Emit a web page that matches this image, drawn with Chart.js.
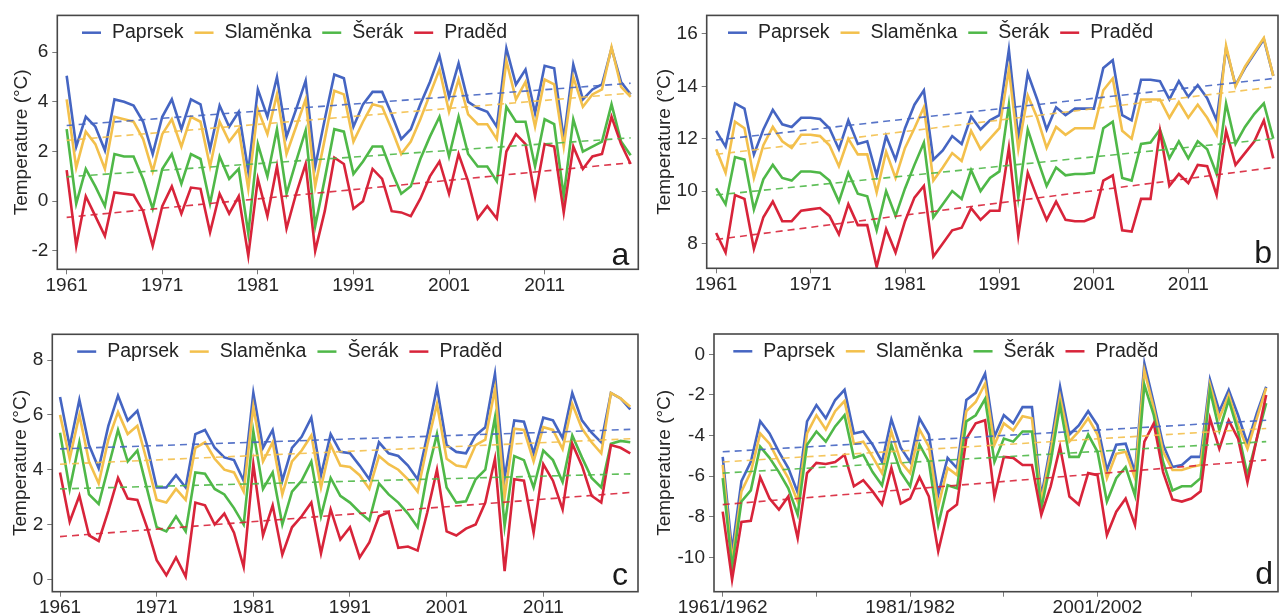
<!DOCTYPE html>
<html><head><meta charset="utf-8">
<script src="https://cdn.jsdelivr.net/npm/chart.js@4.4.0/dist/chart.umd.min.js"></script>
<style>
html,body{margin:0;padding:0;background:#fff;width:1279px;height:616px;overflow:hidden}
canvas{position:absolute}
</style></head><body>
<canvas id="ca" width="640" height="305" style="left:0;top:0"></canvas>
<canvas id="cb" width="639" height="305" style="left:640px;top:0"></canvas>
<canvas id="cc" width="640" height="311" style="left:0;top:305px"></canvas>
<canvas id="cd" width="639" height="311" style="left:640px;top:305px"></canvas>
<script>
// ---------- data ----------
const seriesNames = ['Paprsek', 'Slaměnka', 'Šerák', 'Praděd'];
const years = [1961,1962,1963,1964,1965,1966,1967,1968,1969,1970,1971,1972,1973,1974,1975,1976,1977,1978,1979,1980,
  1981,1982,1983,1984,1985,1986,1987,1988,1989,1990,1991,1992,1993,1994,1995,1996,1997,1998,1999,2000,
  2001,2002,2003,2004,2005,2006,2007,2008,2009,2010,2011,2012,2013,2014,2015,2016,2017,2018,2019,2020];
const winters = [1961,1962,1963,1964,1965,1966,1967,1968,1969,1970,1971,1972,1973,1974,1975,1976,1977,1978,1979,1980,
  1981,1982,1983,1984,1985,1986,1987,1988,1989,1990,1991,1992,1993,1994,1995,1996,1997,1998,1999,2000,
  2001,2002,2003,2004,2005,2006,2007,2008,2009,2010,2011,2012,2013,2014,2015,2016,2017,2018,2019];
const xTickYears = [1961, 1971, 1981, 1991, 2001, 2011];
const winterLabelYears = [1961, 1981, 2001];

// panel a
const aPaprsek = [5.05,2.2,3.4,3.0,2.05,4.1,4.0,3.85,3.2,1.9,3.4,4.1,2.9,4.1,3.9,2.1,3.85,3.0,3.6,1.2,
  4.5,3.4,5.0,2.6,3.7,4.85,1.4,3.3,5.1,4.95,3.0,3.9,4.4,4.4,3.5,2.5,2.9,3.9,4.8,5.85,
  4.2,5.55,4.0,3.75,3.6,3.0,6.15,4.7,5.3,3.55,5.45,5.35,2.5,5.5,4.1,4.5,4.7,6.15,4.8,4.3];
const aSlamenka = [4.1,1.35,2.8,2.3,1.3,3.4,3.3,3.2,2.5,1.2,2.7,3.3,2.2,3.4,3.2,1.4,3.2,2.4,2.9,0.5,
  3.7,2.7,4.3,1.9,3.0,4.1,0.6,2.5,4.45,4.3,2.4,3.2,3.9,3.8,2.9,1.9,2.4,3.3,4.3,5.3,
  3.6,4.9,3.5,3.1,3.1,2.5,5.65,4.1,4.8,3.0,4.9,4.7,2.2,5.0,3.8,4.3,4.5,6.2,4.6,4.2];
const aSerak = [2.9,-0.1,1.3,0.6,-0.2,1.9,1.8,1.8,0.9,-0.3,1.3,1.9,0.7,1.9,1.7,-0.1,1.8,0.9,1.3,-1.3,
  2.3,1.0,2.9,0.3,1.6,2.85,-1.0,0.9,2.9,2.8,1.1,1.6,2.2,2.2,1.2,0.3,0.6,1.7,2.6,3.4,
  1.8,3.4,1.9,1.4,1.4,0.8,3.8,3.2,3.2,1.4,3.3,3.1,0.2,3.3,2.0,2.2,2.4,3.9,2.4,1.85];
const aPraded = [1.25,-1.8,0.2,-0.6,-1.4,0.35,0.3,0.25,-0.4,-1.8,-0.2,0.6,-0.5,0.55,0.5,-1.25,0.3,-0.5,0.2,-2.2,
  0.9,-0.6,1.4,-1.1,0.3,1.5,-2.0,-0.4,1.75,1.5,-0.3,0.0,1.3,0.9,-0.4,-0.45,-0.6,0.1,1.0,1.6,
  0.3,1.9,0.8,-0.7,-0.2,-0.7,2.0,2.7,2.3,0.2,2.3,2.2,-0.45,2.2,1.3,1.8,1.9,3.4,2.3,1.5];
const aTrendStart = [3.05, 2.45, 0.98, -0.65];
const aTrendEnd = [4.75, 4.35, 2.55, 1.55];
const aYTicks = [-2, 0, 2, 4, 6];

// panel b
const bPaprsek = [12.3,11.7,13.35,13.15,11.4,12.35,13.1,12.55,12.45,12.8,12.8,12.75,12.4,11.6,12.7,11.8,11.9,10.6,12.1,11.2,
  12.4,13.3,13.85,11.2,11.55,12.1,11.8,12.85,12.35,12.7,12.9,15.4,12.0,14.5,13.5,12.35,13.2,12.9,13.15,13.15,
  13.15,14.7,15.0,12.9,12.7,14.25,14.25,14.2,13.5,14.2,13.6,14.05,13.55,12.7,15.45,14.05,14.7,15.25,15.8,14.4];
const bSlamenka = [11.6,10.7,12.65,12.4,10.5,11.75,12.45,11.9,11.65,12.15,12.15,12.1,11.75,10.95,12.0,11.4,11.4,9.95,11.5,10.5,
  11.65,12.4,13.2,10.4,10.9,11.45,11.15,12.3,11.6,12.0,12.4,14.65,11.6,13.65,12.8,11.65,12.45,12.15,12.4,12.4,
  12.4,13.85,14.3,12.3,12.0,13.5,13.5,13.5,12.8,13.4,12.8,13.3,12.8,12.15,15.55,14.0,14.75,15.3,15.85,14.4];
const bSerak = [10.1,9.5,11.3,11.2,9.3,10.45,11.0,10.5,10.4,10.75,10.75,10.7,10.4,9.6,10.7,9.9,9.8,8.5,10.0,9.05,
  10.1,11.0,11.85,9.0,9.5,10.0,9.7,10.8,10.0,10.5,10.75,13.3,9.75,12.35,11.25,10.2,10.9,10.6,10.65,10.65,
  10.7,12.4,12.65,10.5,10.4,11.8,11.85,12.35,11.25,11.9,11.25,11.9,11.6,10.65,13.35,11.8,12.45,12.95,13.35,12.0];
const bPraded = [8.4,7.65,9.85,9.7,7.8,9.0,9.6,8.85,8.85,9.25,9.3,9.35,9.05,8.35,9.5,8.7,8.7,7.1,8.55,7.65,
  8.85,9.75,10.2,7.5,8.0,8.5,8.6,9.35,8.9,9.25,9.25,11.65,8.3,10.7,9.75,8.9,9.6,8.9,8.85,8.85,
  9.0,10.4,10.6,8.5,8.45,9.7,9.7,12.3,10.2,10.65,10.3,11.0,10.95,9.85,12.3,11.0,11.45,11.9,12.7,11.25];
const bTrendStart = [11.95, 11.4, 9.85, 8.15];
const bTrendEnd = [14.3, 13.98, 12.0, 10.9];
const bYTicks = [8, 10, 12, 14, 16];

// panel c
const cPaprsek = [6.65,4.85,6.55,4.9,4.05,5.6,6.7,5.8,6.15,4.9,3.35,3.35,3.8,3.35,5.3,5.45,4.8,4.45,4.35,3.6,
  6.8,4.8,5.45,3.6,4.8,5.2,5.9,3.8,5.3,4.65,4.6,4.15,3.65,5.0,4.6,4.5,4.15,3.65,5.25,7.0,
  4.9,4.65,4.6,5.25,5.55,7.5,3.7,5.8,5.75,4.6,5.9,5.8,5.15,6.8,5.8,5.35,5.0,6.8,6.6,6.2];
const cSlamenka = [6.0,4.4,6.0,4.3,3.5,5.1,6.1,5.3,5.6,4.3,2.9,2.8,3.3,2.9,4.8,5.0,4.4,4.0,3.9,3.2,
  6.3,4.3,5.0,3.1,4.3,4.7,5.25,3.35,4.9,4.15,4.1,3.8,3.3,4.5,4.2,4.0,3.65,3.2,4.9,6.4,
  4.4,4.15,4.1,4.9,5.1,6.95,3.0,5.5,5.45,4.3,5.55,5.45,4.75,6.4,5.5,5.0,4.6,6.8,6.6,6.3];
const cSerak = [5.35,3.3,5.0,3.1,2.75,4.1,5.45,4.3,4.7,3.3,1.9,1.75,2.3,1.75,3.9,3.85,3.3,3.1,2.6,2.0,
  5.4,3.3,3.9,2.0,3.2,3.6,4.3,2.3,3.7,3.05,2.8,2.45,2.15,3.5,3.1,2.8,2.4,1.9,3.85,5.3,
  3.35,2.8,2.85,3.65,4.0,5.9,1.95,4.5,4.35,3.35,4.7,4.35,3.55,5.25,4.45,3.7,3.35,4.95,5.05,5.0];
const cPraded = [3.9,2.1,3.05,1.6,1.4,2.5,3.7,2.95,2.9,1.9,0.7,0.15,0.8,0.1,2.8,2.7,2.0,2.4,1.7,0.45,
  4.2,1.6,2.7,0.9,1.9,2.3,2.8,0.95,2.55,1.45,1.9,0.8,1.35,2.3,2.45,1.15,1.2,1.05,2.45,4.0,
  1.75,1.6,1.85,2.0,2.8,4.4,0.3,3.65,3.6,1.7,4.2,3.6,2.55,4.95,4.15,3.05,2.8,4.9,4.8,4.6];
const cTrendStart = [4.76, 4.2, 3.3, 1.56];
const cTrendEnd = [5.47, 5.13, 3.85, 3.17];
const cYTicks = [0, 2, 4, 6, 8];

// panel d (winters 1961/1962 ... 2019/2020)
const dPaprsek = [-5.05,-9.7,-6.25,-5.3,-3.3,-3.9,-4.8,-5.6,-6.8,-3.3,-2.5,-3.15,-2.25,-1.75,-3.9,-3.8,-4.45,-5.3,-3.2,-4.6,
  -5.3,-3.15,-3.95,-6.9,-5.1,-5.6,-2.25,-1.9,-0.95,-4.05,-3.0,-3.4,-2.6,-2.6,-7.0,-4.5,-1.6,-3.95,-3.5,-2.8,
  -3.5,-5.7,-4.45,-4.4,-5.8,-0.45,-2.4,-4.45,-5.55,-5.45,-5.05,-5.05,-1.25,-2.8,-1.75,-3.0,-4.4,-2.9,-1.6];
const dSlamenka = [-5.45,-10.2,-6.75,-5.8,-3.9,-4.4,-5.3,-6.1,-7.25,-3.9,-3.0,-3.7,-2.8,-2.3,-4.4,-4.3,-5.05,-5.85,-3.8,-5.3,
  -5.85,-3.7,-4.55,-7.5,-5.6,-5.95,-2.8,-2.35,-1.45,-4.45,-3.4,-3.75,-3.05,-3.15,-7.25,-4.8,-2.1,-4.3,-3.8,-3.15,
  -3.95,-6.1,-4.9,-4.8,-6.1,-0.8,-2.65,-4.8,-5.7,-5.7,-5.55,-5.45,-1.5,-3.15,-2.0,-3.5,-4.65,-3.15,-1.65];
const dSerak = [-6.1,-10.5,-7.25,-6.7,-4.55,-5.1,-5.8,-6.6,-7.9,-4.45,-3.8,-4.3,-3.55,-3.0,-5.1,-4.95,-5.8,-6.45,-4.45,-5.8,
  -6.5,-4.45,-5.3,-8.4,-6.45,-6.6,-3.3,-3.0,-2.2,-5.3,-4.15,-4.3,-3.8,-3.8,-7.6,-5.3,-2.5,-5.05,-5.05,-3.95,
  -4.8,-7.25,-6.1,-5.55,-6.95,-1.5,-3.0,-5.3,-6.7,-6.5,-6.5,-6.1,-1.75,-3.75,-2.25,-3.8,-5.95,-4.15,-2.4];
const dPraded = [-7.75,-11.1,-8.25,-8.2,-6.05,-7.1,-7.65,-7.0,-9.05,-5.85,-5.35,-5.4,-5.3,-4.95,-6.5,-6.2,-6.75,-7.4,-5.6,-7.35,
  -7.1,-6.05,-7.0,-9.7,-7.75,-7.4,-4.15,-3.4,-3.25,-7.0,-5.05,-5.1,-5.45,-5.45,-7.9,-6.5,-4.55,-7.0,-7.4,-5.85,
  -5.95,-8.9,-7.75,-7.1,-8.4,-4.3,-3.4,-5.8,-7.15,-7.25,-7.1,-6.75,-3.15,-4.65,-3.25,-4.15,-6.3,-4.15,-2.0];
const dTrendStart = [-4.8, -5.3, -5.85, -7.4];
const dTrendEnd = [-3.25, -3.65, -4.3, -5.2];
const dYTicks = [-10, -8, -6, -4, -2, 0];

// ---------- styling ----------
const lineColors = ['#4565c2', '#f3c04c', '#4fb848', '#d8243a'];
const trendColors = ['rgba(69,101,194,0.9)', 'rgba(243,192,76,0.9)', 'rgba(79,184,72,0.9)', 'rgba(216,36,58,0.9)'];
const FONT = '"Liberation Sans", Arial, sans-serif';

const panelPlugin = {
  id: 'panelDecor',
  afterDatasetsDraw(chart) {
    const o = chart.options.plugins.panelDecor;
    const {ctx, chartArea: a} = chart;
    ctx.save();
    ctx.strokeStyle = '#474747';
    ctx.lineWidth = 1.6;
    ctx.strokeRect(a.left, a.top, a.right - a.left, a.bottom - a.top);
    // legend
    ctx.font = '19.5px ' + FONT;
    ctx.textBaseline = 'middle';
    ctx.textAlign = 'left';
    let x = a.left + o.legendX;
    const y = a.top + 17.3;
    chart.data.datasets.filter(d => !d.isTrend).forEach(d => {
      ctx.strokeStyle = d.borderColor;
      ctx.lineWidth = 2.5;
      ctx.beginPath(); ctx.moveTo(x, y); ctx.lineTo(x + 19, y); ctx.stroke();
      x += 30;
      ctx.fillStyle = '#242424';
      ctx.fillText(d.label, x, y);
      x += ctx.measureText(d.label).width + 11;
    });
    // panel letter
    ctx.font = '32px ' + FONT;
    ctx.textAlign = 'right';
    ctx.textBaseline = 'alphabetic';
    ctx.fillStyle = '#1a1a1a';
    ctx.fillText(o.letter, a.right - o.letterDx, a.bottom - o.letterDy);
    ctx.restore();
  }
};

function makePanel(p) {
  const datasets = [];
  p.series.forEach((vals, i) => {
    datasets.push({
      label: seriesNames[i],
      data: vals.map((v, k) => ({x: p.xs[k], y: v})),
      borderColor: lineColors[i], backgroundColor: lineColors[i],
      borderWidth: 2.6, pointRadius: 0, tension: 0, fill: false,
      order: 5 - i
    });
  });
  p.trendStart.forEach((v, i) => {
    datasets.push({
      label: seriesNames[i] + ' trend', isTrend: true,
      data: [{x: p.xs[0], y: p.trendStart[i]}, {x: p.xs[p.xs.length - 1], y: p.trendEnd[i]}],
      borderColor: trendColors[i], borderWidth: 1.6, borderDash: [7, 5],
      pointRadius: 0, tension: 0, fill: false, order: 0
    });
  });
  const tickFont = {family: FONT, size: 19};
  new Chart(document.getElementById(p.id), {
    type: 'line',
    data: {datasets},
    options: {
      responsive: false, animation: false, events: [],
      layout: {padding: {left: 0, top: p.padTop, right: p.padRight, bottom: 0}},
      plugins: {legend: {display: false}, tooltip: {enabled: false},
        panelDecor: {letter: p.letter, legendX: p.legendX, letterDx: p.letterDx, letterDy: p.letterDy}},
      scales: {
        x: {
          type: 'linear', bounds: 'data', min: p.xMin, max: p.xMax,
          afterBuildTicks: s => { s.ticks = xTickYears.map(v => ({value: v})); },
          afterFit: s => { s.height = p.xAxisH; },
          ticks: {autoSkip: false, maxRotation: 0, minRotation: 0, padding: 0, color: '#262626', font: tickFont,
            callback: p.xFormat},
          grid: {drawOnChartArea: false, drawTicks: true, tickLength: 5, color: '#7a7a7a', lineWidth: 1},
          border: {display: false}
        },
        y: {
          type: 'linear', bounds: 'data', min: p.yMin, max: p.yMax,
          afterBuildTicks: s => { s.ticks = p.yTicks.map(v => ({value: v})); },
          afterFit: s => { s.width = p.yAxisW; },
          ticks: {padding: 4, color: '#262626', font: tickFont, callback: v => String(v)},
          grid: {drawOnChartArea: false, drawTicks: true, tickLength: 5, color: '#7a7a7a', lineWidth: 1},
          border: {display: false},
          title: {display: true, text: 'Temperature (°C)', color: '#262626',
            font: {family: FONT, size: 19}, padding: {top: p.titlePad, bottom: 0}}
        }
      }
    },
    plugins: [panelPlugin]
  });
}

const plainYear = v => String(v);
const winterYear = v => winterLabelYears.includes(v) ? v + '/' + (v + 1) : '';

makePanel({id: 'ca', letter: 'a', xs: years, series: [aPaprsek, aSlamenka, aSerak, aPraded],
  trendStart: aTrendStart, trendEnd: aTrendEnd, yTicks: aYTicks,
  xMin: 1960.02, xMax: 2020.8, yMin: -2.74, yMax: 7.48,
  padTop: 13, padRight: 1.7, yAxisW: 57.3, xAxisH: 35.7, titlePad: 10.3,
  legendX: 24.7, letterDx: 9, letterDy: 4.5, xFormat: plainYear});
makePanel({id: 'cb', letter: 'b', xs: years, series: [bPaprsek, bSlamenka, bSerak, bPraded],
  trendStart: bTrendStart, trendEnd: bTrendEnd, yTicks: bYTicks,
  xMin: 1960.0, xMax: 2020.5, yMin: 7.05, yMax: 16.71,
  padTop: 13, padRight: 1, yAxisW: 66.7, xAxisH: 36.7, titlePad: 13.6,
  legendX: 21.3, letterDx: 6, letterDy: 5, xFormat: plainYear});
makePanel({id: 'cc', letter: 'c', xs: years, series: [cPaprsek, cSlamenka, cSerak, cPraded],
  trendStart: cTrendStart, trendEnd: cTrendEnd, yTicks: cYTicks,
  xMin: 1960.2, xMax: 2020.8, yMin: -0.45, yMax: 8.94,
  padTop: 29.3, padRight: 2, yAxisW: 52.3, xAxisH: 24.3, titlePad: 9.3,
  legendX: 24.9, letterDx: 10, letterDy: 6.5, xFormat: plainYear});
makePanel({id: 'cd', letter: 'd', xs: winters, series: [dPaprsek, dSlamenka, dSerak, dPraded],
  trendStart: dTrendStart, trendEnd: dTrendEnd, yTicks: dYTicks,
  xMin: 1960.07, xMax: 2020.26, yMin: -11.69, yMax: 1.0,
  padTop: 29, padRight: 1, yAxisW: 74, xAxisH: 24.3, titlePad: 13.6,
  legendX: 19.3, letterDx: 5, letterDy: 8, xFormat: winterYear});
</script>
</body></html>
